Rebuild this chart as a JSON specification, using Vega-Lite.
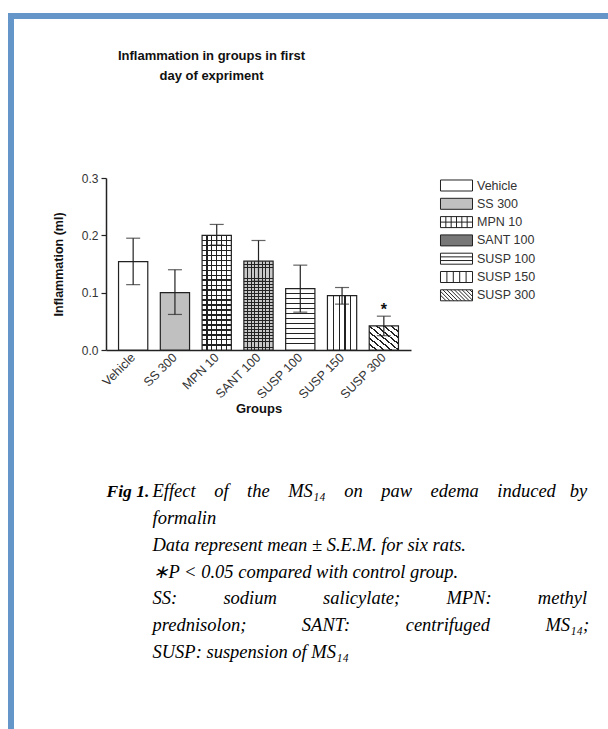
{
  "$schema": "https://vega.github.io/schema/vega-lite/v6.json",
  "background": "#ffffff",
  "padding": {"left": 8, "top": 10, "right": 0, "bottom": 0},
  "config": {
    "view": {"stroke": null},
    "font": "Liberation Sans",
    "axis": {"grid": false, "domainColor": "#222222", "tickColor": "#222222", "labelColor": "#333333", "labelFont": "Liberation Sans", "titleFont": "Liberation Sans", "titleColor": "#111111"}
  },
  "spacing": 0,
  "hconcat": [
    {
      "width": 6, "height": 719,
      "view": {"fill": "#6596CA", "stroke": null},
      "data": {"values": [{}]},
      "mark": {"type": "text", "text": ""},
      "encoding": {}
    },
    {
      "spacing": 29,
      "vconcat": [
        {
          "width": 594, "height": 6,
          "view": {"fill": "#6596CA", "stroke": null},
          "data": {"values": [{}]},
          "mark": {"type": "text", "text": ""},
          "encoding": {}
        },
        {
          "spacing": 37,
          "hconcat": [
            {
              "width": 1, "height": 1,
              "data": {"values": [{}]},
              "mark": {"type": "text", "text": ""},
              "encoding": {}
            },
            {
              "spacing": 66,
              "vconcat": [
                {
                  "width": 305,
                  "height": 172,
                  "title": {"text": ["Inflammation in groups in first", "day of expriment"], "font": "Liberation Sans", "fontSize": 13, "fontWeight": "bold", "color": "#111111", "lineHeight": 20, "offset": 89, "anchor": "middle", "frame": "group", "dx": -47},
                  "data": {"values": [
                    {"group": "Vehicle", "mean": 0.154, "lo": 0.114, "hi": 0.195, "sig": ""},
                    {"group": "SS 300", "mean": 0.100, "lo": 0.062, "hi": 0.140, "sig": ""},
                    {"group": "MPN 10", "mean": 0.200, "lo": 0.183, "hi": 0.219, "sig": ""},
                    {"group": "SANT 100", "mean": 0.155, "lo": 0.120, "hi": 0.191, "sig": ""},
                    {"group": "SUSP 100", "mean": 0.107, "lo": 0.066, "hi": 0.148, "sig": ""},
                    {"group": "SUSP 150", "mean": 0.095, "lo": 0.080, "hi": 0.109, "sig": ""},
                    {"group": "SUSP 300", "mean": 0.042, "lo": 0.025, "hi": 0.059, "sig": "*"}
                  ]},
                  "encoding": {
                    "x": {"field": "group", "type": "nominal", "sort": null,
                      "scale": {"paddingInner": 0.3, "paddingOuter": 0.3},
                      "axis": {"title": "Groups", "titleFontSize": 13, "titleFontWeight": "bold", "titlePadding": 2, "labelAngle": -45, "labelAlign": "right", "labelBaseline": "middle", "labelFontSize": 12.5, "ticks": false, "tickSize": 0, "labelPadding": 5, "domainWidth": 1.5}
                    }
                  },
                  "layer": [
                    {
                      "mark": {"type": "bar", "stroke": "#222222", "strokeWidth": 1.2},
                      "encoding": {
                        "y": {"field": "mean", "type": "quantitative", "title": "Inflammation (ml)",
                          "scale": {"domain": [0, 0.3], "nice": false},
                          "axis": {"values": [0, 0.1, 0.2, 0.3], "format": ".1f", "labelFontSize": 12, "tickSize": 5, "tickWidth": 1.2, "domainWidth": 1.5, "labelPadding": 3, "titleFontSize": 12.5, "titleFontWeight": "bold", "titlePadding": 16}
                        },
                        "fill": {
                          "condition": [
                            {"test": "datum.group === 'SS 300'", "value": "#c0c0c0"},
                            {"test": "datum.group === 'MPN 10'", "value": {"gradient": "linear", "x1": 0, "y1": 0, "x2": 1, "y2": 0, "stops": [
                              {"offset": 0, "color": "#ffffff"},
                              {"offset": 0.147, "color": "#ffffff"}, {"offset": 0.147, "color": "#222222"}, {"offset": 0.187, "color": "#222222"}, {"offset": 0.187, "color": "#ffffff"},
                              {"offset": 0.313, "color": "#ffffff"}, {"offset": 0.313, "color": "#222222"}, {"offset": 0.353, "color": "#222222"}, {"offset": 0.353, "color": "#ffffff"},
                              {"offset": 0.48, "color": "#ffffff"}, {"offset": 0.48, "color": "#222222"}, {"offset": 0.52, "color": "#222222"}, {"offset": 0.52, "color": "#ffffff"},
                              {"offset": 0.647, "color": "#ffffff"}, {"offset": 0.647, "color": "#222222"}, {"offset": 0.687, "color": "#222222"}, {"offset": 0.687, "color": "#ffffff"},
                              {"offset": 0.813, "color": "#ffffff"}, {"offset": 0.813, "color": "#222222"}, {"offset": 0.853, "color": "#222222"}, {"offset": 0.853, "color": "#ffffff"},
                              {"offset": 1, "color": "#ffffff"}]}},
                            {"test": "datum.group === 'SANT 100'", "value": {"gradient": "linear", "x1": 0, "y1": 0, "x2": 1, "y2": 0, "stops": [
                              {"offset": 0, "color": "#c8c8c8"},
                              {"offset": 0.105, "color": "#c8c8c8"}, {"offset": 0.105, "color": "#222222"}, {"offset": 0.145, "color": "#222222"}, {"offset": 0.145, "color": "#c8c8c8"},
                              {"offset": 0.23, "color": "#c8c8c8"}, {"offset": 0.23, "color": "#222222"}, {"offset": 0.27, "color": "#222222"}, {"offset": 0.27, "color": "#c8c8c8"},
                              {"offset": 0.355, "color": "#c8c8c8"}, {"offset": 0.355, "color": "#222222"}, {"offset": 0.395, "color": "#222222"}, {"offset": 0.395, "color": "#c8c8c8"},
                              {"offset": 0.48, "color": "#c8c8c8"}, {"offset": 0.48, "color": "#222222"}, {"offset": 0.52, "color": "#222222"}, {"offset": 0.52, "color": "#c8c8c8"},
                              {"offset": 0.605, "color": "#c8c8c8"}, {"offset": 0.605, "color": "#222222"}, {"offset": 0.645, "color": "#222222"}, {"offset": 0.645, "color": "#c8c8c8"},
                              {"offset": 0.73, "color": "#c8c8c8"}, {"offset": 0.73, "color": "#222222"}, {"offset": 0.77, "color": "#222222"}, {"offset": 0.77, "color": "#c8c8c8"},
                              {"offset": 0.855, "color": "#c8c8c8"}, {"offset": 0.855, "color": "#222222"}, {"offset": 0.895, "color": "#222222"}, {"offset": 0.895, "color": "#c8c8c8"},
                              {"offset": 1, "color": "#c8c8c8"}]}},
                            {"test": "datum.group === 'SUSP 100'", "value": {"gradient": "linear", "x1": 0, "y1": 0, "x2": 0, "y2": 1, "stops": [
                              {"offset": 0, "color": "#ffffff"},
                              {"offset": 0.074, "color": "#ffffff"}, {"offset": 0.074, "color": "#222222"}, {"offset": 0.088, "color": "#222222"}, {"offset": 0.088, "color": "#ffffff"},
                              {"offset": 0.155, "color": "#ffffff"}, {"offset": 0.155, "color": "#222222"}, {"offset": 0.169, "color": "#222222"}, {"offset": 0.169, "color": "#ffffff"},
                              {"offset": 0.236, "color": "#ffffff"}, {"offset": 0.236, "color": "#222222"}, {"offset": 0.25, "color": "#222222"}, {"offset": 0.25, "color": "#ffffff"},
                              {"offset": 0.317, "color": "#ffffff"}, {"offset": 0.317, "color": "#222222"}, {"offset": 0.331, "color": "#222222"}, {"offset": 0.331, "color": "#ffffff"},
                              {"offset": 0.398, "color": "#ffffff"}, {"offset": 0.398, "color": "#222222"}, {"offset": 0.412, "color": "#222222"}, {"offset": 0.412, "color": "#ffffff"},
                              {"offset": 0.479, "color": "#ffffff"}, {"offset": 0.479, "color": "#222222"}, {"offset": 0.493, "color": "#222222"}, {"offset": 0.493, "color": "#ffffff"},
                              {"offset": 0.56, "color": "#ffffff"}, {"offset": 0.56, "color": "#222222"}, {"offset": 0.574, "color": "#222222"}, {"offset": 0.574, "color": "#ffffff"},
                              {"offset": 0.641, "color": "#ffffff"}, {"offset": 0.641, "color": "#222222"}, {"offset": 0.655, "color": "#222222"}, {"offset": 0.655, "color": "#ffffff"},
                              {"offset": 0.722, "color": "#ffffff"}, {"offset": 0.722, "color": "#222222"}, {"offset": 0.736, "color": "#222222"}, {"offset": 0.736, "color": "#ffffff"},
                              {"offset": 0.803, "color": "#ffffff"}, {"offset": 0.803, "color": "#222222"}, {"offset": 0.817, "color": "#222222"}, {"offset": 0.817, "color": "#ffffff"},
                              {"offset": 0.884, "color": "#ffffff"}, {"offset": 0.884, "color": "#222222"}, {"offset": 0.898, "color": "#222222"}, {"offset": 0.898, "color": "#ffffff"},
                              {"offset": 1, "color": "#ffffff"}]}},
                            {"test": "datum.group === 'SUSP 150'", "value": {"gradient": "linear", "x1": 0, "y1": 0, "x2": 1, "y2": 0, "stops": [
                              {"offset": 0, "color": "#ffffff"},
                              {"offset": 0.18, "color": "#ffffff"}, {"offset": 0.18, "color": "#222222"}, {"offset": 0.22, "color": "#222222"}, {"offset": 0.22, "color": "#ffffff"},
                              {"offset": 0.38, "color": "#ffffff"}, {"offset": 0.38, "color": "#222222"}, {"offset": 0.42, "color": "#222222"}, {"offset": 0.42, "color": "#ffffff"},
                              {"offset": 0.58, "color": "#ffffff"}, {"offset": 0.58, "color": "#222222"}, {"offset": 0.62, "color": "#222222"}, {"offset": 0.62, "color": "#ffffff"},
                              {"offset": 0.78, "color": "#ffffff"}, {"offset": 0.78, "color": "#222222"}, {"offset": 0.82, "color": "#222222"}, {"offset": 0.82, "color": "#ffffff"},
                              {"offset": 1, "color": "#ffffff"}]}},
                            {"test": "datum.group === 'SUSP 300'", "value": {"gradient": "linear", "x1": 0, "y1": 1, "x2": 1, "y2": 0, "stops": [
                              {"offset": 0, "color": "#ffffff"},
                              {"offset": 0.107, "color": "#ffffff"}, {"offset": 0.107, "color": "#222222"}, {"offset": 0.143, "color": "#222222"}, {"offset": 0.143, "color": "#ffffff"},
                              {"offset": 0.232, "color": "#ffffff"}, {"offset": 0.232, "color": "#222222"}, {"offset": 0.268, "color": "#222222"}, {"offset": 0.268, "color": "#ffffff"},
                              {"offset": 0.357, "color": "#ffffff"}, {"offset": 0.357, "color": "#222222"}, {"offset": 0.393, "color": "#222222"}, {"offset": 0.393, "color": "#ffffff"},
                              {"offset": 0.482, "color": "#ffffff"}, {"offset": 0.482, "color": "#222222"}, {"offset": 0.518, "color": "#222222"}, {"offset": 0.518, "color": "#ffffff"},
                              {"offset": 0.607, "color": "#ffffff"}, {"offset": 0.607, "color": "#222222"}, {"offset": 0.643, "color": "#222222"}, {"offset": 0.643, "color": "#ffffff"},
                              {"offset": 0.732, "color": "#ffffff"}, {"offset": 0.732, "color": "#222222"}, {"offset": 0.768, "color": "#222222"}, {"offset": 0.768, "color": "#ffffff"},
                              {"offset": 0.857, "color": "#ffffff"}, {"offset": 0.857, "color": "#222222"}, {"offset": 0.893, "color": "#222222"}, {"offset": 0.893, "color": "#ffffff"},
                              {"offset": 1, "color": "#ffffff"}]}}
                          ],
                          "value": "#ffffff"
                        }
                      }
                    },
                    {
                      "transform": [{"filter": "datum.group === 'MPN 10' || datum.group === 'SANT 100'"}],
                      "mark": {"type": "bar", "strokeWidth": 0},
                      "encoding": {
                        "y": {"field": "mean", "type": "quantitative", "title": "Inflammation (ml)"},
                        "fill": {
                          "condition": {"test": "datum.group === 'MPN 10'", "value": {"gradient": "linear", "x1": 0, "y1": 0, "x2": 0, "y2": 1, "stops": [
                            {"offset": 0, "color": "rgba(255,255,255,0)"},
                            {"offset": 0.038, "color": "rgba(255,255,255,0)"}, {"offset": 0.038, "color": "#222222"}, {"offset": 0.048, "color": "#222222"}, {"offset": 0.048, "color": "rgba(255,255,255,0)"},
                            {"offset": 0.081, "color": "rgba(255,255,255,0)"}, {"offset": 0.081, "color": "#222222"}, {"offset": 0.091, "color": "#222222"}, {"offset": 0.091, "color": "rgba(255,255,255,0)"},
                            {"offset": 0.124, "color": "rgba(255,255,255,0)"}, {"offset": 0.124, "color": "#222222"}, {"offset": 0.134, "color": "#222222"}, {"offset": 0.134, "color": "rgba(255,255,255,0)"},
                            {"offset": 0.168, "color": "rgba(255,255,255,0)"}, {"offset": 0.168, "color": "#222222"}, {"offset": 0.178, "color": "#222222"}, {"offset": 0.178, "color": "rgba(255,255,255,0)"},
                            {"offset": 0.211, "color": "rgba(255,255,255,0)"}, {"offset": 0.211, "color": "#222222"}, {"offset": 0.221, "color": "#222222"}, {"offset": 0.221, "color": "rgba(255,255,255,0)"},
                            {"offset": 0.255, "color": "rgba(255,255,255,0)"}, {"offset": 0.255, "color": "#222222"}, {"offset": 0.265, "color": "#222222"}, {"offset": 0.265, "color": "rgba(255,255,255,0)"},
                            {"offset": 0.298, "color": "rgba(255,255,255,0)"}, {"offset": 0.298, "color": "#222222"}, {"offset": 0.308, "color": "#222222"}, {"offset": 0.308, "color": "rgba(255,255,255,0)"},
                            {"offset": 0.342, "color": "rgba(255,255,255,0)"}, {"offset": 0.342, "color": "#222222"}, {"offset": 0.352, "color": "#222222"}, {"offset": 0.352, "color": "rgba(255,255,255,0)"},
                            {"offset": 0.385, "color": "rgba(255,255,255,0)"}, {"offset": 0.385, "color": "#222222"}, {"offset": 0.395, "color": "#222222"}, {"offset": 0.395, "color": "rgba(255,255,255,0)"},
                            {"offset": 0.429, "color": "rgba(255,255,255,0)"}, {"offset": 0.429, "color": "#222222"}, {"offset": 0.439, "color": "#222222"}, {"offset": 0.439, "color": "rgba(255,255,255,0)"},
                            {"offset": 0.472, "color": "rgba(255,255,255,0)"}, {"offset": 0.472, "color": "#222222"}, {"offset": 0.482, "color": "#222222"}, {"offset": 0.482, "color": "rgba(255,255,255,0)"},
                            {"offset": 0.516, "color": "rgba(255,255,255,0)"}, {"offset": 0.516, "color": "#222222"}, {"offset": 0.526, "color": "#222222"}, {"offset": 0.526, "color": "rgba(255,255,255,0)"},
                            {"offset": 0.559, "color": "rgba(255,255,255,0)"}, {"offset": 0.559, "color": "#222222"}, {"offset": 0.569, "color": "#222222"}, {"offset": 0.569, "color": "rgba(255,255,255,0)"},
                            {"offset": 0.603, "color": "rgba(255,255,255,0)"}, {"offset": 0.603, "color": "#222222"}, {"offset": 0.613, "color": "#222222"}, {"offset": 0.613, "color": "rgba(255,255,255,0)"},
                            {"offset": 0.646, "color": "rgba(255,255,255,0)"}, {"offset": 0.646, "color": "#222222"}, {"offset": 0.656, "color": "#222222"}, {"offset": 0.656, "color": "rgba(255,255,255,0)"},
                            {"offset": 0.690, "color": "rgba(255,255,255,0)"}, {"offset": 0.690, "color": "#222222"}, {"offset": 0.700, "color": "#222222"}, {"offset": 0.700, "color": "rgba(255,255,255,0)"},
                            {"offset": 0.733, "color": "rgba(255,255,255,0)"}, {"offset": 0.733, "color": "#222222"}, {"offset": 0.743, "color": "#222222"}, {"offset": 0.743, "color": "rgba(255,255,255,0)"},
                            {"offset": 0.777, "color": "rgba(255,255,255,0)"}, {"offset": 0.777, "color": "#222222"}, {"offset": 0.787, "color": "#222222"}, {"offset": 0.787, "color": "rgba(255,255,255,0)"},
                            {"offset": 0.820, "color": "rgba(255,255,255,0)"}, {"offset": 0.820, "color": "#222222"}, {"offset": 0.830, "color": "#222222"}, {"offset": 0.830, "color": "rgba(255,255,255,0)"},
                            {"offset": 0.864, "color": "rgba(255,255,255,0)"}, {"offset": 0.864, "color": "#222222"}, {"offset": 0.874, "color": "#222222"}, {"offset": 0.874, "color": "rgba(255,255,255,0)"},
                            {"offset": 0.907, "color": "rgba(255,255,255,0)"}, {"offset": 0.907, "color": "#222222"}, {"offset": 0.917, "color": "#222222"}, {"offset": 0.917, "color": "rgba(255,255,255,0)"},
                            {"offset": 0.951, "color": "rgba(255,255,255,0)"}, {"offset": 0.951, "color": "#222222"}, {"offset": 0.961, "color": "#222222"}, {"offset": 0.961, "color": "rgba(255,255,255,0)"},
                            {"offset": 1, "color": "rgba(255,255,255,0)"}]}},
                          "value": {"gradient": "linear", "x1": 0, "y1": 0, "x2": 0, "y2": 1, "stops": [
                            {"offset": 0, "color": "rgba(255,255,255,0)"},
                            {"offset": 0.028, "color": "rgba(255,255,255,0)"}, {"offset": 0.028, "color": "#222222"}, {"offset": 0.038, "color": "#222222"}, {"offset": 0.038, "color": "rgba(255,255,255,0)"},
                            {"offset": 0.062, "color": "rgba(255,255,255,0)"}, {"offset": 0.062, "color": "#222222"}, {"offset": 0.072, "color": "#222222"}, {"offset": 0.072, "color": "rgba(255,255,255,0)"},
                            {"offset": 0.095, "color": "rgba(255,255,255,0)"}, {"offset": 0.095, "color": "#222222"}, {"offset": 0.105, "color": "#222222"}, {"offset": 0.105, "color": "rgba(255,255,255,0)"},
                            {"offset": 0.128, "color": "rgba(255,255,255,0)"}, {"offset": 0.128, "color": "#222222"}, {"offset": 0.138, "color": "#222222"}, {"offset": 0.138, "color": "rgba(255,255,255,0)"},
                            {"offset": 0.162, "color": "rgba(255,255,255,0)"}, {"offset": 0.162, "color": "#222222"}, {"offset": 0.172, "color": "#222222"}, {"offset": 0.172, "color": "rgba(255,255,255,0)"},
                            {"offset": 0.195, "color": "rgba(255,255,255,0)"}, {"offset": 0.195, "color": "#222222"}, {"offset": 0.205, "color": "#222222"}, {"offset": 0.205, "color": "rgba(255,255,255,0)"},
                            {"offset": 0.228, "color": "rgba(255,255,255,0)"}, {"offset": 0.228, "color": "#222222"}, {"offset": 0.238, "color": "#222222"}, {"offset": 0.238, "color": "rgba(255,255,255,0)"},
                            {"offset": 0.262, "color": "rgba(255,255,255,0)"}, {"offset": 0.262, "color": "#222222"}, {"offset": 0.272, "color": "#222222"}, {"offset": 0.272, "color": "rgba(255,255,255,0)"},
                            {"offset": 0.295, "color": "rgba(255,255,255,0)"}, {"offset": 0.295, "color": "#222222"}, {"offset": 0.305, "color": "#222222"}, {"offset": 0.305, "color": "rgba(255,255,255,0)"},
                            {"offset": 0.328, "color": "rgba(255,255,255,0)"}, {"offset": 0.328, "color": "#222222"}, {"offset": 0.338, "color": "#222222"}, {"offset": 0.338, "color": "rgba(255,255,255,0)"},
                            {"offset": 0.362, "color": "rgba(255,255,255,0)"}, {"offset": 0.362, "color": "#222222"}, {"offset": 0.372, "color": "#222222"}, {"offset": 0.372, "color": "rgba(255,255,255,0)"},
                            {"offset": 0.395, "color": "rgba(255,255,255,0)"}, {"offset": 0.395, "color": "#222222"}, {"offset": 0.405, "color": "#222222"}, {"offset": 0.405, "color": "rgba(255,255,255,0)"},
                            {"offset": 0.428, "color": "rgba(255,255,255,0)"}, {"offset": 0.428, "color": "#222222"}, {"offset": 0.438, "color": "#222222"}, {"offset": 0.438, "color": "rgba(255,255,255,0)"},
                            {"offset": 0.462, "color": "rgba(255,255,255,0)"}, {"offset": 0.462, "color": "#222222"}, {"offset": 0.472, "color": "#222222"}, {"offset": 0.472, "color": "rgba(255,255,255,0)"},
                            {"offset": 0.495, "color": "rgba(255,255,255,0)"}, {"offset": 0.495, "color": "#222222"}, {"offset": 0.505, "color": "#222222"}, {"offset": 0.505, "color": "rgba(255,255,255,0)"},
                            {"offset": 0.528, "color": "rgba(255,255,255,0)"}, {"offset": 0.528, "color": "#222222"}, {"offset": 0.538, "color": "#222222"}, {"offset": 0.538, "color": "rgba(255,255,255,0)"},
                            {"offset": 0.562, "color": "rgba(255,255,255,0)"}, {"offset": 0.562, "color": "#222222"}, {"offset": 0.572, "color": "#222222"}, {"offset": 0.572, "color": "rgba(255,255,255,0)"},
                            {"offset": 0.595, "color": "rgba(255,255,255,0)"}, {"offset": 0.595, "color": "#222222"}, {"offset": 0.605, "color": "#222222"}, {"offset": 0.605, "color": "rgba(255,255,255,0)"},
                            {"offset": 0.628, "color": "rgba(255,255,255,0)"}, {"offset": 0.628, "color": "#222222"}, {"offset": 0.638, "color": "#222222"}, {"offset": 0.638, "color": "rgba(255,255,255,0)"},
                            {"offset": 0.662, "color": "rgba(255,255,255,0)"}, {"offset": 0.662, "color": "#222222"}, {"offset": 0.672, "color": "#222222"}, {"offset": 0.672, "color": "rgba(255,255,255,0)"},
                            {"offset": 0.695, "color": "rgba(255,255,255,0)"}, {"offset": 0.695, "color": "#222222"}, {"offset": 0.705, "color": "#222222"}, {"offset": 0.705, "color": "rgba(255,255,255,0)"},
                            {"offset": 0.728, "color": "rgba(255,255,255,0)"}, {"offset": 0.728, "color": "#222222"}, {"offset": 0.738, "color": "#222222"}, {"offset": 0.738, "color": "rgba(255,255,255,0)"},
                            {"offset": 0.762, "color": "rgba(255,255,255,0)"}, {"offset": 0.762, "color": "#222222"}, {"offset": 0.772, "color": "#222222"}, {"offset": 0.772, "color": "rgba(255,255,255,0)"},
                            {"offset": 0.795, "color": "rgba(255,255,255,0)"}, {"offset": 0.795, "color": "#222222"}, {"offset": 0.805, "color": "#222222"}, {"offset": 0.805, "color": "rgba(255,255,255,0)"},
                            {"offset": 0.828, "color": "rgba(255,255,255,0)"}, {"offset": 0.828, "color": "#222222"}, {"offset": 0.838, "color": "#222222"}, {"offset": 0.838, "color": "rgba(255,255,255,0)"},
                            {"offset": 0.862, "color": "rgba(255,255,255,0)"}, {"offset": 0.862, "color": "#222222"}, {"offset": 0.872, "color": "#222222"}, {"offset": 0.872, "color": "rgba(255,255,255,0)"},
                            {"offset": 0.895, "color": "rgba(255,255,255,0)"}, {"offset": 0.895, "color": "#222222"}, {"offset": 0.905, "color": "#222222"}, {"offset": 0.905, "color": "rgba(255,255,255,0)"},
                            {"offset": 0.928, "color": "rgba(255,255,255,0)"}, {"offset": 0.928, "color": "#222222"}, {"offset": 0.938, "color": "#222222"}, {"offset": 0.938, "color": "rgba(255,255,255,0)"},
                            {"offset": 0.962, "color": "rgba(255,255,255,0)"}, {"offset": 0.962, "color": "#222222"}, {"offset": 0.972, "color": "#222222"}, {"offset": 0.972, "color": "rgba(255,255,255,0)"},
                            {"offset": 1, "color": "rgba(255,255,255,0)"}]}
                        }
                      }
                    },
                    {
                      "mark": {"type": "rule", "color": "#222222", "strokeWidth": 1.2},
                      "encoding": {
                        "y": {"field": "lo", "type": "quantitative", "title": "Inflammation (ml)"},
                        "y2": {"field": "hi"}
                      }
                    },
                    {
                      "mark": {"type": "tick", "color": "#222222", "thickness": 1.2, "size": 14},
                      "encoding": {"y": {"field": "hi", "type": "quantitative", "title": "Inflammation (ml)"}}
                    },
                    {
                      "mark": {"type": "tick", "color": "#222222", "thickness": 1.2, "size": 14},
                      "encoding": {"y": {"field": "lo", "type": "quantitative", "title": "Inflammation (ml)"}}
                    },
                    {
                      "mark": {"type": "text", "font": "Liberation Sans", "fontWeight": "bold", "fontSize": 16, "baseline": "alphabetic", "dy": -1, "color": "#111111"},
                      "encoding": {
                        "y": {"field": "hi", "type": "quantitative", "title": "Inflammation (ml)"},
                        "text": {"field": "sig"}
                      }
                    },
                    {
                      "transform": [{"filter": "datum.mean < 0"}],
                      "mark": {"type": "point", "filled": true, "strokeWidth": 1, "opacity": 1},
                      "encoding": {
                        "fill": {"field": "group", "type": "nominal",
                          "scale": {"domain": ["Vehicle", "SS 300", "MPN 10", "SANT 100", "SUSP 100", "SUSP 150", "SUSP 300"],
                                    "range": ["#ffffff", "#c0c0c0", "#ffffff", "#777777", "#ffffff", "#ffffff", "#ffffff"]},
                          "legend": {"title": null, "orient": "none", "legendX": 441, "legendY": 165, "padding": 0, "symbolSize": 196, "labelFont": "Liberation Sans", "labelFontSize": 12.5, "labelColor": "#333333", "labelOffset": 13, "rowPadding": 1.3, "symbolStrokeWidth": 1, "labelLimit": 200}
                        },
                        "stroke": {"field": "group", "type": "nominal",
                          "scale": {"domain": ["Vehicle", "SS 300", "MPN 10", "SANT 100", "SUSP 100", "SUSP 150", "SUSP 300"],
                                    "range": ["#222222", "#222222", "#222222", "#222222", "#222222", "#222222", "#222222"]},
                          "legend": {"title": null, "orient": "none", "legendX": 441, "legendY": 165, "padding": 0, "symbolSize": 196, "labelFont": "Liberation Sans", "labelFontSize": 12.5, "labelColor": "#333333", "labelOffset": 13, "rowPadding": 1.3, "symbolStrokeWidth": 1, "labelLimit": 200}
                        },
                        "shape": {"field": "group", "type": "nominal",
                          "scale": {"domain": ["Vehicle", "SS 300", "MPN 10", "SANT 100", "SUSP 100", "SUSP 150", "SUSP 300"],
                                    "range": [
                                      "M-2.286,-0.786H2.286V0.786H-2.286Z",
                                      "M-2.286,-0.786H2.286V0.786H-2.286Z",
                                      "M-2.286,-0.786H2.286V0.786H-2.286ZM-1.524,-0.786V0.786M-0.762,-0.786V0.786M0,-0.786V0.786M0.762,-0.786V0.786M1.524,-0.786V0.786M-2.286,0H2.286",
                                      "M-2.286,-0.786H2.286V0.786H-2.286Z",
                                      "M-2.286,-0.786H2.286V0.786H-2.286ZM-2.286,-0.262H2.286M-2.286,0.262H2.286",
                                      "M-2.286,-0.786H2.286V0.786H-2.286ZM-1.372,-0.786V0.786M-0.457,-0.786V0.786M0.457,-0.786V0.786M1.372,-0.786V0.786",
                                      "M-2.286,-0.786H2.286V0.786H-2.286ZM-2.286,-0.022L-1.478,0.786M-2.286,-0.572L-0.928,0.786M-1.95,-0.786L-0.378,0.786M-1.4,-0.786L0.172,0.786M-0.85,-0.786L0.722,0.786M-0.3,-0.786L1.272,0.786M0.25,-0.786L1.822,0.786M0.8,-0.786L2.286,0.7M1.35,-0.786L2.286,0.15M1.9,-0.786L2.286,-0.4"
                                    ]},
                          "legend": {"title": null, "orient": "none", "legendX": 441, "legendY": 165, "padding": 0, "symbolSize": 196, "labelFont": "Liberation Sans", "labelFontSize": 12.5, "labelColor": "#333333", "labelOffset": 13, "rowPadding": 1.3, "symbolStrokeWidth": 1, "labelLimit": 200}
                        }
                      }
                    }
                  ]
                },
                {
                  "spacing": 2,
                  "hconcat": [
                    {
                      "width": 1, "height": 1,
                      "data": {"values": [{"t": "Fig 1."}]},
                      "mark": {"type": "text", "align": "left", "baseline": "middle", "font": "Liberation Serif", "fontStyle": "italic", "fontWeight": "bold", "fontSize": 17.5, "color": "#000000"},
                      "encoding": {"text": {"field": "t"}}
                    },
                    {
                      "width": 1, "height": 161,
                      "data": {"values": [
                        {"line": 1, "t": "Effect \u00a0\u00a0\u00a0of \u00a0\u00a0\u00a0the \u00a0\u00a0\u00a0MS\u2081\u2084 \u00a0\u00a0\u00a0on \u00a0\u00a0\u00a0paw \u00a0\u00a0\u00a0edema \u00a0\u00a0\u00a0induced \u00a0\u00a0by"},
                        {"line": 2, "t": "formalin"},
                        {"line": 3, "t": "Data represent mean \u00b1 S.E.M. for six rats."},
                        {"line": 4, "t": "\u2217P < 0.05 compared with control group."},
                        {"line": 5, "t": "SS: \u00a0\u00a0\u00a0\u00a0\u00a0\u00a0\u00a0\u00a0\u00a0sodium \u00a0\u00a0\u00a0\u00a0\u00a0\u00a0\u00a0\u00a0\u00a0salicylate; \u00a0\u00a0\u00a0\u00a0\u00a0\u00a0\u00a0\u00a0\u00a0MPN: \u00a0\u00a0\u00a0\u00a0\u00a0\u00a0\u00a0\u00a0\u00a0methyl"},
                        {"line": 6, "t": "prednisolon; \u00a0\u00a0\u00a0\u00a0\u00a0\u00a0\u00a0\u00a0\u00a0\u00a0\u00a0SANT: \u00a0\u00a0\u00a0\u00a0\u00a0\u00a0\u00a0\u00a0\u00a0\u00a0\u00a0centrifuged \u00a0\u00a0\u00a0\u00a0\u00a0\u00a0\u00a0\u00a0\u00a0\u00a0\u00a0MS\u2081\u2084;"},
                        {"line": 7, "t": "SUSP: suspension of MS\u2081\u2084"}
                      ]},
                      "mark": {"type": "text", "align": "left", "baseline": "middle", "font": "Liberation Serif", "fontStyle": "italic", "fontSize": 18.5, "color": "#000000"},
                      "encoding": {
                        "y": {"field": "line", "type": "ordinal", "axis": null, "scale": {"type": "point", "padding": 0}},
                        "text": {"field": "t"}
                      }
                    }
                  ]
                }
              ]
            }
          ]
        }
      ]
    }
  ]
}
